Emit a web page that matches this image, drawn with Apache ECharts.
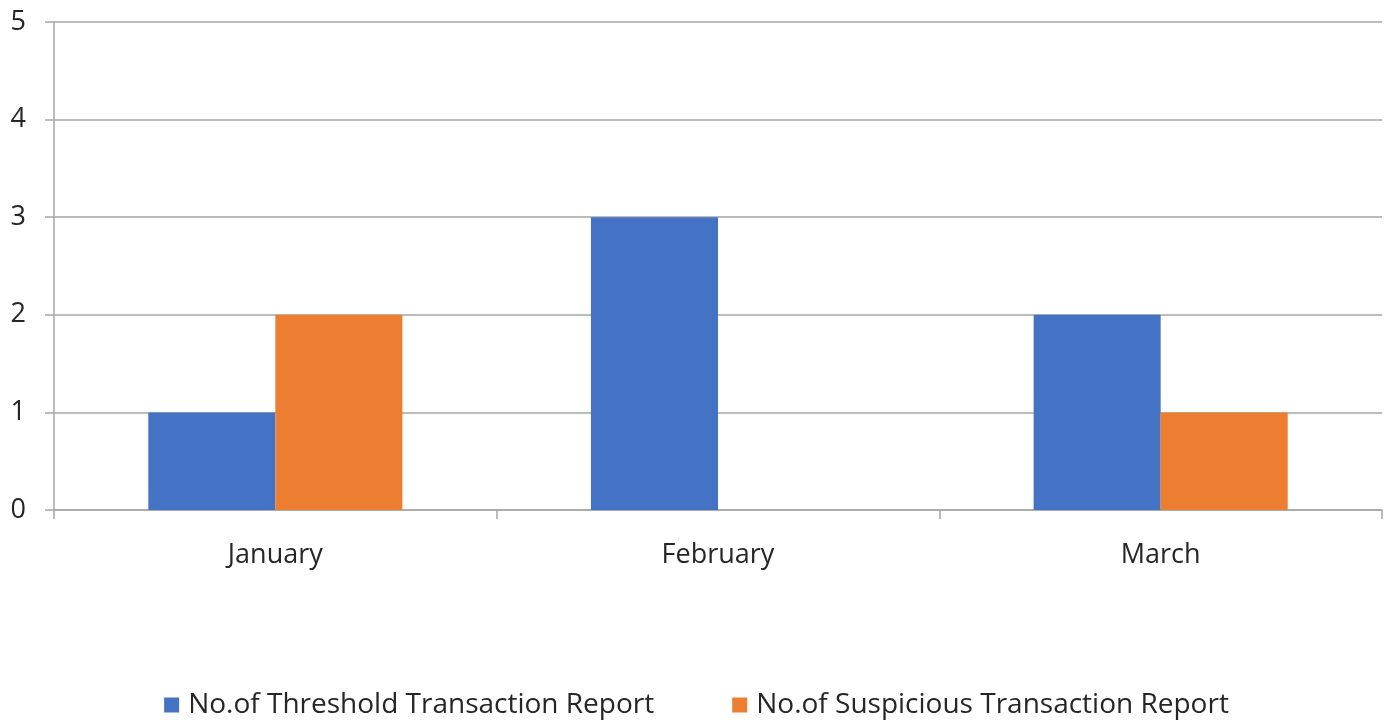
<!DOCTYPE html>
<html>
<head>
<meta charset="utf-8">
<script src="https://cdn.jsdelivr.net/npm/echarts@6/dist/echarts.min.js"></script>
<style>html,body{margin:0;padding:0;background:#fff}#c{width:1393px;height:722px}</style>
</head>
<body>
<div id="c"></div>
<script>
const categories = ['January', 'February', 'March'];
const thresholdValues = [1, 3, 2];
const suspiciousValues = [2, 0, 1];
const yTicks = [0, 1, 2, 3, 4, 5];
const seriesNames = ['No.of Threshold Transaction Report', 'No.of Suspicious Transaction Report'];

const font = 'Open Sans';
const chart = echarts.init(document.getElementById('c'));
chart.setOption({
  animation: false,
  grid: { left: 54, right: 11, top: 22, bottom: 212, containLabel: false },
  legend: {
    bottom: -2, left: 'center', itemWidth: 15, itemHeight: 15, itemGap: 78,
    icon: 'rect',
    textStyle: { fontFamily: font, fontSize: 28, color: '#262626', padding: [0, 0, 0, 4] },
    data: seriesNames
  },
  xAxis: {
    type: 'category', data: categories,
    axisLine: { lineStyle: { color: '#a6a6a6', width: 1.5 } },
    axisTick: { show: true, length: 9, lineStyle: { color: '#a6a6a6', width: 1.5 } },
    axisLabel: { fontFamily: font, fontSize: 27, color: '#262626', margin: 32 }
  },
  yAxis: {
    type: 'value', min: yTicks[0], max: yTicks[yTicks.length - 1], interval: 1,
    axisLine: { show: true, lineStyle: { color: '#a6a6a6', width: 1.5 } },
    axisTick: { show: true, length: 9, lineStyle: { color: '#a6a6a6', width: 1.5 } },
    splitLine: { lineStyle: { color: '#a6a6a6', width: 1.5 } },
    axisLabel: { fontFamily: font, fontSize: 27, color: '#262626', margin: 28 }
  },
  series: [
    { name: seriesNames[0], type: 'bar', data: thresholdValues, barGap: '0%', barCategoryGap: '42.6%', itemStyle: { color: '#4472c4' } },
    { name: seriesNames[1], type: 'bar', data: suspiciousValues, barGap: '0%', barCategoryGap: '42.6%', itemStyle: { color: '#ed7d31' } }
  ]
});
</script>
</body>
</html>
